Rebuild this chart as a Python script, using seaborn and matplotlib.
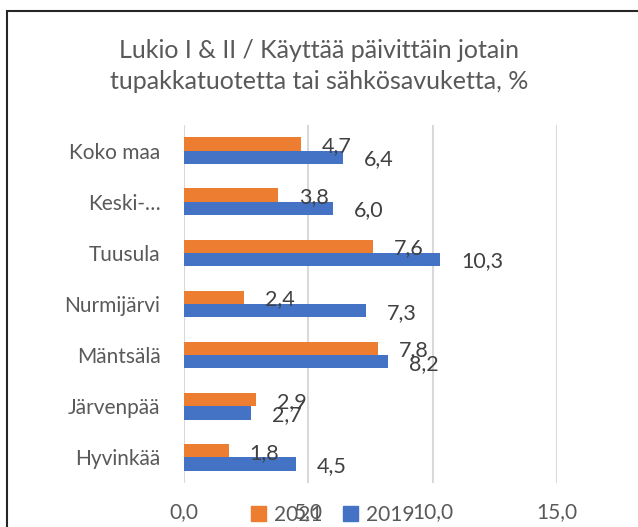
import pandas as pd
import matplotlib
matplotlib.use("Agg")
import matplotlib.pyplot as plt
import seaborn as sns
from matplotlib.patches import Rectangle

# Chart data
categories = ["Koko maa", "Keski-…", "Tuusula", "Nurmijärvi", "Mäntsälä", "Järvenpää", "Hyvinkää"]
values_2021 = [4.7, 3.8, 7.6, 2.4, 7.8, 2.9, 1.8]
values_2019 = [6.4, 6.0, 10.3, 7.3, 8.2, 2.7, 4.5]
years = ["2021", "2019"]
x_ticks = [0, 5, 10, 15]

df = pd.DataFrame({
    "kunta": categories * 2,
    "vuosi": ["2021"] * len(categories) + ["2019"] * len(categories),
    "arvo": values_2021 + values_2019,
})

sns.set_style("white")
plt.rcParams["font.family"] = ["Lato", "DejaVu Sans"]
text_color = "#595959"

fig = plt.figure(figsize=(6.38, 5.27), dpi=100)
ax = fig.add_axes([184 / 638, 1 - 483 / 527, 373 / 638, 358 / 527])

sns.barplot(data=df, y="kunta", x="arvo", hue="vuosi", hue_order=years,
            order=categories, orient="h", width=0.52, saturation=1,
            palette={"2021": "#ED7D31", "2019": "#4472C4"},
            linewidth=0, legend=False, ax=ax)

# data labels (Excel puts them slightly right of the bar end)
for cont in ax.containers:
    for bar in cont:
        w = bar.get_width()
        yc = bar.get_y() + bar.get_height() / 2
        ax.annotate(f"{w:.1f}".replace(".", ","), xy=(w, yc), xytext=(21, -2),
                    textcoords="offset pixels", ha="left", va="center",
                    fontsize=15.5, color="#404040")

ax.set_xlim(0, 15)
ax.set_ylim(6.5, -0.5)
ax.set_xticks(x_ticks)
ax.set_xticklabels([f"{t:.1f}".replace(".", ",") for t in x_ticks])
ax.xaxis.grid(True, color="#d9d9d9", linewidth=1.5)
ax.set_axisbelow(True)
for s in ax.spines.values():
    s.set_visible(False)
ax.tick_params(axis="x", length=0, pad=14, labelsize=15, labelcolor=text_color)
ax.tick_params(axis="y", length=0, pad=17, labelsize=15, labelcolor=text_color)
ax.set_xlabel("")
ax.set_ylabel("")

fig.text(319 / 638, 1 - 66 / 527,
         "Lukio I & II / Käyttää päivittäin jotain\ntupakkatuotetta tai sähkösavuketta, %",
         ha="center", va="center", fontsize=18, color=text_color, linespacing=1.42)

handles = [Rectangle((0, 0), 1, 1, color="#ED7D31"), Rectangle((0, 0), 1, 1, color="#4472C4")]
fig.legend(handles, years, loc="center", bbox_to_anchor=(333 / 638, 1 - 515 / 527),
           ncol=2, frameon=False, fontsize=15, labelcolor=text_color,
           handlelength=0.7, handleheight=0.7, handletextpad=0.4, columnspacing=1.0,
           borderpad=0)

# outer chart border
fig.patches.append(Rectangle((6.5 / 638, -0.1), 1.2, 1.1 - 11 / 527, transform=fig.transFigure,
                             fill=False, edgecolor="#262626", linewidth=1.5))

fig.savefig("out.png", dpi=100)
